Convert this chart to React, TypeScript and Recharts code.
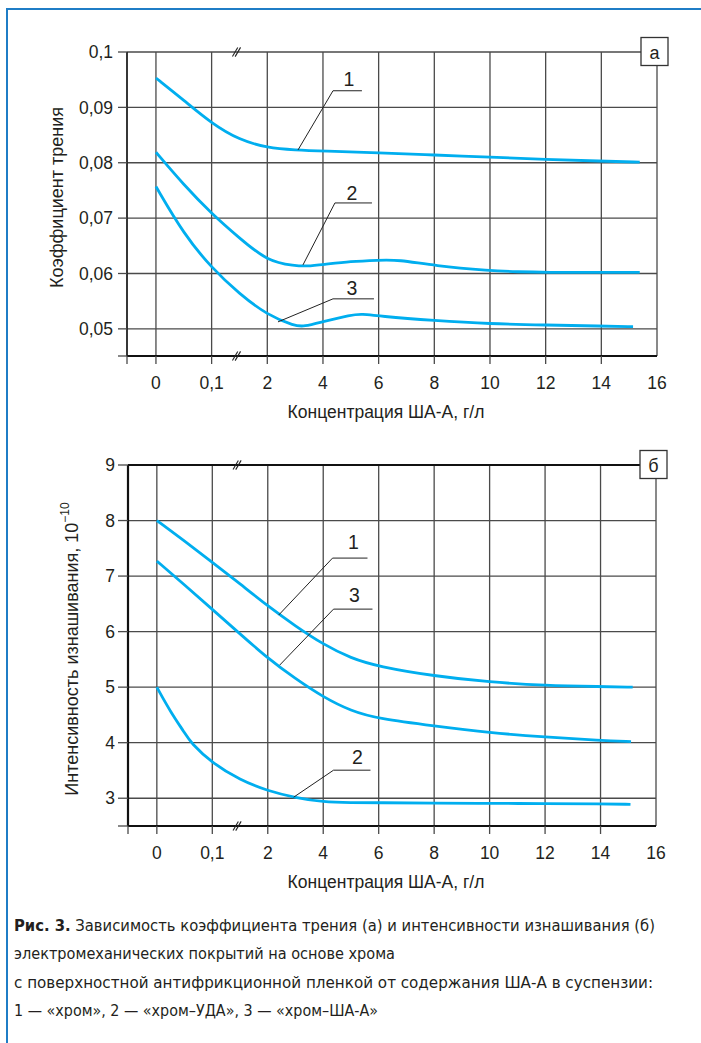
import React from 'react';
import { LineChart, Line, XAxis, YAxis, CartesianGrid, ReferenceLine, ReferenceDot } from 'recharts';

// ---------- shared axis data ----------
const X_MIN = -0.52; // axis starts half a step before the first category
const xTickPositions = [0, 1, 2, 3, 4, 5, 6, 7, 8, 9];
const xTickLabels = ['0', '0,1', '2', '4', '6', '8', '10', '12', '14', '16'];
const xTicksAll = [X_MIN, ...xTickPositions];
const breakPos = 1.455;

// ---------- (а) friction coefficient ----------
const frictionMin = 0.0451;
const frictionMax = 0.1;
const frictionTicks = [0.05, 0.06, 0.07, 0.08, 0.09, 0.1];
const frictionTickLabels = ['0,05', '0,06', '0,07', '0,08', '0,09', '0,1'];

const frictionX1 = [0, 0.5, 1, 1.5, 2, 2.5, 3, 4, 5, 6, 7, 8, 8.69];
const friction1 = [0.0953, 0.0913, 0.0871, 0.0841, 0.0827, 0.0823, 0.0821, 0.0818, 0.0814, 0.081, 0.0806, 0.0803, 0.0801];

const frictionX2 = [0, 0.5, 1, 1.5, 2, 2.5, 2.7, 3, 3.5, 4, 4.35, 5, 6, 6.5, 7, 8, 8.69];
const friction2 = [0.0819, 0.076, 0.0708, 0.0664, 0.0622, 0.0614, 0.0613, 0.0616, 0.0622, 0.0624, 0.0625, 0.0614, 0.0605, 0.0603, 0.0602, 0.0602, 0.0602];

const frictionX3 = [0, 0.5, 1, 1.5, 2, 2.5, 2.65, 3, 3.5, 3.7, 4, 5, 6, 7, 8, 8.57];
const friction3 = [0.0757, 0.0671, 0.061, 0.0563, 0.0525, 0.0505, 0.0504, 0.0513, 0.0525, 0.0527, 0.0523, 0.0515, 0.0509, 0.0507, 0.0505, 0.0504];

const frictionCallouts = [
  { label: '1', from: [2.551, 0.0823], corner: [3.18, 0.093], end: [3.7, 0.093], text: [3.467, 0.0951] },
  { label: '2', from: [2.641, 0.06155], corner: [3.215, 0.07274], end: [3.88, 0.07274], text: [3.521, 0.07455] },
  { label: '3', from: [2.192, 0.05126], corner: [3.18, 0.05542], end: [3.916, 0.05542], text: [3.521, 0.0574] },
];

// ---------- (б) wear intensity ----------
const wearMin = 2.5;
const wearMax = 9;
const wearTicks = [3, 4, 5, 6, 7, 8, 9];
const wearTickLabels = ['3', '4', '5', '6', '7', '8', '9'];

const wearX1 = [0, 0.5, 1, 1.5, 2, 2.5, 3, 3.5, 4, 5, 6, 7, 8, 8.58];
const wear1 = [8.0, 7.63, 7.25, 6.86, 6.46, 6.1, 5.77, 5.52, 5.37, 5.2, 5.09, 5.03, 5.01, 5.0];

const wearX2 = [0, 0.25, 0.5, 0.61, 1, 1.5, 2, 2.5, 3, 3.5, 4, 5, 6, 7, 8, 8.54];
const wear2 = [5.0, 4.55, 4.18, 4.0, 3.63, 3.33, 3.13, 3.01, 2.93, 2.92, 2.92, 2.91, 2.91, 2.9, 2.9, 2.89];

const wearX3 = [0, 0.5, 1, 1.5, 2, 2.5, 3, 3.5, 4, 5, 6, 7, 8, 8.55];
const wear3 = [7.27, 6.84, 6.4, 5.96, 5.52, 5.15, 4.82, 4.57, 4.43, 4.3, 4.18, 4.1, 4.04, 4.02];

const wearCallouts = [
  { label: '1', from: [2.196, 6.297], corner: [3.168, 7.324], end: [3.798, 7.324], text: [3.546, 7.613] },
  { label: '3', from: [2.214, 5.396], corner: [3.186, 6.405], end: [3.888, 6.405], text: [3.564, 6.658] },
  { label: '2', from: [2.466, 3.018], corner: [3.186, 3.505], end: [3.852, 3.505], text: [3.617, 3.739] },
];

const captionLines = [
  'электромеханических покрытий на основе хрома',
  'с поверхностной антифрикционной пленкой от содержания ША-А в суспензии:',
  '1 — «хром», 2 — «хром–УДА», 3 — «хром–ША-А»',
];

// ---------- styles ----------
const FONT = '"Liberation Sans", Arial, Helvetica, sans-serif';
const INK = '#231f20';
const GRID = '#4a4a4a';
const CURVE = '#00aeef';
const FRAME = '#1f7dc6';

const toPoints = (xs: number[], ys: number[]) => xs.map((x, i) => ({ x, y: ys[i] }));

const X_TICK_SIZE = 8;

const renderXTick = (props: any) => {
  const { x, y, payload } = props;
  const v = payload.value;
  const i = xTickPositions.indexOf(v);
  const label = i >= 0 ? xTickLabels[i] : '';
  const axisY = y - X_TICK_SIZE;
  return (
    <g>
      {v < 9 && <line x1={x} x2={x} y1={axisY} y2={axisY + X_TICK_SIZE} stroke={GRID} strokeWidth={1.3} />}
      {label && (
        <text x={x} y={axisY + 33.3} textAnchor="middle" fill={INK} fontSize={17.5} fontFamily={FONT}>
          {label}
        </text>
      )}
    </g>
  );
};

const BreakMark = (p: any) => (
  <g>
    <line x1={p.cx - 4.5} y1={p.cy + 4.6} x2={p.cx + 0.8} y2={p.cy - 4.6} stroke="#222" strokeWidth={1.1} />
    <line x1={p.cx - 1.8} y1={p.cy + 4.6} x2={p.cx + 3.6} y2={p.cy - 4.6} stroke="#222" strokeWidth={1.1} />
  </g>
);

const panelBox = (letter: string) => (p: any) => (
  <g>
    <rect x={p.cx - 16} y={p.cy - 14.5} width={27} height={28} fill="#fff" stroke="#333" strokeWidth={1.3} />
    <text x={p.cx - 2.5} y={p.cy + 0.5} textAnchor="middle" dominantBaseline="central" fontSize={18} fill={INK} fontFamily={FONT}>
      {letter}
    </text>
  </g>
);

const numberLabel = (label: string) => (p: any) => (
  <text x={p.cx} y={p.cy} textAnchor="middle" dominantBaseline="central" fontSize={19.5} fill={INK} fontFamily={FONT}>
    {label}
  </text>
);

const renderCallouts = (callouts: any[]) =>
  callouts.flatMap((c) => [
    <ReferenceLine
      key={'a' + c.label}
      segment={[{ x: c.from[0], y: c.from[1] }, { x: c.corner[0], y: c.corner[1] }]}
      stroke="#222"
      strokeWidth={1}
      ifOverflow="visible"
    />,
    <ReferenceLine
      key={'b' + c.label}
      segment={[{ x: c.corner[0], y: c.corner[1] }, { x: c.end[0], y: c.end[1] }]}
      stroke="#222"
      strokeWidth={1}
      ifOverflow="visible"
    />,
    <ReferenceDot key={'t' + c.label} x={c.text[0]} y={c.text[1]} r={0} ifOverflow="visible" shape={numberLabel(c.label)} />,
  ]);

const curve = (xs: number[], ys: number[]) => (
  <Line
    data={toPoints(xs, ys)}
    dataKey="y"
    type="basis"
    stroke={CURVE}
    strokeWidth={2.8}
    dot={false}
    activeDot={false}
    isAnimationActive={false}
  />
);

const ChartA = () => (
  <LineChart width={701} height={430} margin={{ top: 52, right: 44, left: 0, bottom: 0 }} style={{ fontFamily: FONT }}>
    <CartesianGrid stroke={GRID} strokeWidth={1.3} />
    <XAxis
      dataKey="x"
      type="number"
      domain={[X_MIN, 9]}
      ticks={xTicksAll}
      allowDataOverflow
      height={74}
      tickSize={X_TICK_SIZE}
      tickMargin={0}
      tickLine={false}
      tick={renderXTick}
      axisLine={{ stroke: '#111', strokeWidth: 2.2 }}
      label={{
        value: 'Концентрация ША-А, г/л',
        content: (p: any) => {
          const vb = p.viewBox || { x: 127, y: 356, width: 530 };
          return (
            <text x={vb.x + vb.width / 2 - 6} y={vb.y + 62} textAnchor="middle" fontSize={17.5} fill={INK} fontFamily={FONT}>
              Концентрация ША-А, г/л
            </text>
          );
        },
      }}
    />
    <YAxis
      type="number"
      domain={[frictionMin, frictionMax]}
      ticks={[frictionMin, ...frictionTicks]}
      allowDataOverflow
      width={127}
      tickSize={9}
      tickMargin={5}
      tickLine={{ stroke: GRID, strokeWidth: 1.3 }}
      axisLine={{ stroke: '#222', strokeWidth: 1.6 }}
      tick={{ fill: INK, fontSize: 17.5, fontFamily: FONT }}
      tickFormatter={(v: number) => {
        const i = frictionTicks.indexOf(v);
        return i >= 0 ? frictionTickLabels[i] : '';
      }}
      label={{
        value: 'Коэффициент трения',
        content: (p: any) => {
          const vb = p.viewBox || { x: 0, y: 52, height: 304 };
          const cx = vb.x + 57;
          const cy = vb.y + vb.height / 2 - 6.5;
          return (
            <text x={cx} y={cy} transform={`rotate(-90 ${cx} ${cy})`} textAnchor="middle" dominantBaseline="central" fontSize={18} fill={INK} fontFamily={FONT}>
              Коэффициент трения
            </text>
          );
        },
      }}
    />
    {curve(frictionX1, friction1)}
    {curve(frictionX2, friction2)}
    {curve(frictionX3, friction3)}
    {renderCallouts(frictionCallouts)}
    <ReferenceDot x={breakPos} y={frictionMax} r={0} ifOverflow="visible" shape={BreakMark} />
    <ReferenceDot x={breakPos} y={frictionMin} r={0} ifOverflow="visible" shape={BreakMark} />
    <ReferenceDot x={9} y={frictionMax} r={0} ifOverflow="visible" shape={panelBox('а')} />
  </LineChart>
);

const ChartB = () => (
  <LineChart width={701} height={470} margin={{ top: 35, right: 45, left: 0, bottom: 0 }} style={{ fontFamily: FONT }}>
    <CartesianGrid stroke={GRID} strokeWidth={1.3} />
    <XAxis
      dataKey="x"
      type="number"
      domain={[X_MIN, 9]}
      ticks={xTicksAll}
      allowDataOverflow
      height={74}
      tickSize={X_TICK_SIZE}
      tickMargin={0}
      tickLine={false}
      tick={renderXTick}
      axisLine={{ stroke: '#111', strokeWidth: 2.2 }}
      label={{
        value: 'Концентрация ША-А, г/л',
        content: (p: any) => {
          const vb = p.viewBox || { x: 128, y: 396, width: 528 };
          return (
            <text x={vb.x + vb.width / 2 - 6} y={vb.y + 61.5} textAnchor="middle" fontSize={17.5} fill={INK} fontFamily={FONT}>
              Концентрация ША-А, г/л
            </text>
          );
        },
      }}
    />
    <YAxis
      type="number"
      domain={[wearMin, wearMax]}
      ticks={[wearMin, ...wearTicks]}
      allowDataOverflow
      width={128}
      tickSize={10}
      tickMargin={3}
      tickLine={{ stroke: GRID, strokeWidth: 1.3 }}
      axisLine={{ stroke: '#111', strokeWidth: 2.2 }}
      tick={{ fill: INK, fontSize: 17.5, fontFamily: FONT }}
      tickFormatter={(v: number) => {
        const i = wearTicks.indexOf(v);
        return i >= 0 ? wearTickLabels[i] : '';
      }}
      label={{
        value: 'Интенсивность изнашивания, 10−10',
        content: (p: any) => {
          const vb = p.viewBox || { x: 0, y: 35, height: 361 };
          const cx = vb.x + 72;
          const cy = vb.y + vb.height / 2 + 3.5;
          return (
            <text x={cx} y={cy} transform={`rotate(-90 ${cx} ${cy})`} textAnchor="middle" dominantBaseline="central" fontSize={18} fill={INK} fontFamily={FONT}>
              Интенсивность изнашивания, 10
              <tspan dy={-7} fontSize={12}>−10</tspan>
            </text>
          );
        },
      }}
    />
    <ReferenceLine y={wearMax} stroke="#111" strokeWidth={2} ifOverflow="visible" />
    {curve(wearX1, wear1)}
    {curve(wearX2, wear2)}
    {curve(wearX3, wear3)}
    {renderCallouts(wearCallouts)}
    <ReferenceDot x={breakPos} y={wearMax} r={0} ifOverflow="visible" shape={BreakMark} />
    <ReferenceDot x={breakPos} y={wearMin} r={0} ifOverflow="visible" shape={BreakMark} />
    <ReferenceDot x={9} y={wearMax} r={0} ifOverflow="visible" shape={panelBox('б')} />
  </LineChart>
);

const CAPTION_FONT = '"Liberation Sans Narrow", "DejaVu Sans Condensed", "Open Sans", sans-serif';

export default function App() {
  return (
    <div style={{ position: 'absolute', left: 0, top: 0, width: 701, height: 1043, background: '#fff', overflow: 'hidden' }}>
      <div
        style={{
          position: 'absolute',
          left: 6,
          top: 8,
          width: 760,
          height: 1100,
          borderLeft: `2.4px solid ${FRAME}`,
          borderTop: `2.6px solid ${FRAME}`,
        }}
      />
      <div style={{ position: 'absolute', left: 0, top: 0 }}>
        <ChartA />
      </div>
      <div style={{ position: 'absolute', left: 0, top: 430 }}>
        <ChartB />
      </div>
      <svg width={701} height={1043} style={{ position: 'absolute', left: 0, top: 0, pointerEvents: 'none' }}>
        <text x={14} y={931} fontSize={16.5} fill={INK} fontFamily={CAPTION_FONT} textLength={641} lengthAdjust="spacingAndGlyphs">
          <tspan fontWeight="bold">Рис. 3.</tspan> Зависимость коэффициента трения (а) и интенсивности изнашивания (б)
        </text>
        <text x={14} y={959} fontSize={16.5} fill={INK} fontFamily={CAPTION_FONT} textLength={381} lengthAdjust="spacingAndGlyphs">
          {captionLines[0]}
        </text>
        <text x={14} y={988} fontSize={16.5} fill={INK} fontFamily={CAPTION_FONT} textLength={639} lengthAdjust="spacingAndGlyphs">
          {captionLines[1]}
        </text>
        <text x={14} y={1016} fontSize={16.5} fill={INK} fontFamily={CAPTION_FONT} textLength={364} lengthAdjust="spacingAndGlyphs">
          {captionLines[2]}
        </text>
      </svg>
    </div>
  );
}
